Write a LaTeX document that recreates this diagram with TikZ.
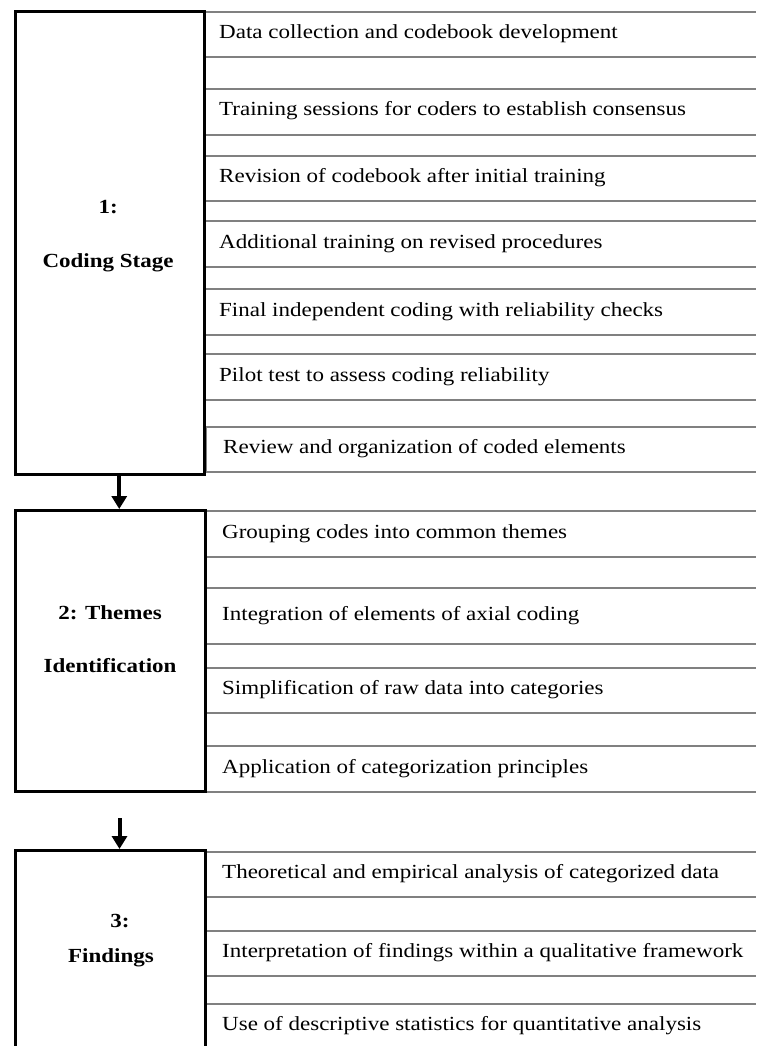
\documentclass[tikz,border=0pt]{standalone}
\usepackage{fontspec}
\setmainfont[FakeStretch=1.15]{Liberation Serif}
\usetikzlibrary{arrows.meta,positioning,calc}

\begin{document}
\begin{tikzpicture}[
		x=1pt,y=-1pt,
		stage/.style={
			draw=black,
			line width=3pt,
			inner sep=0pt
		},
		stagetext/.style={
			anchor=base,
			inner sep=0pt,
			font=\bfseries\fontsize{20}{24}\selectfont
		},
		item/.style={
			anchor=base west,
			inner sep=0pt,
			font=\fontsize{20}{24}\selectfont
		},
		rule/.style={
			draw=gray,
			line width=1.1pt
		},
		flow/.style={
			-{Triangle[width=15pt,length=13pt]},
			line width=4pt
		}
		]
		\useasboundingbox (0,0) rectangle (756,1046);
		
		% row rules
		\foreach \ya/\yb in {12/57,89/135,156/201,221/267,289/335,354/400,427/472,
			511/557,588/644,668/713,746/792,852/897,931/976,1004/1049}{
			\draw[rule] (205,\ya) -- (756,\ya);
			\draw[rule] (205,\yb) -- (756,\yb);
		}
		\draw[rule] (206,427) -- (206,472);
		
		% stage boxes
		\node[stage,minimum width=188.5pt,minimum height=463pt] (stage1) at (109.75,243) {};
		\node[stage,minimum width=189.8pt,minimum height=281pt] (stage2) at (110.4,651) {};
		\node[stage,minimum width=190.7pt,minimum height=219.5pt] (stage3) at (110.35,960.25) {};
		
		\node[stagetext] (num1) at (108.3,213.5) {1:};
		\node[stagetext] (name1) at (108,267) {Coding Stage};
		\node[stagetext] (num2) at (110,619) {2: Themes};
		\node[stagetext] (name2) at (110,672) {Identification};
		\node[stagetext] (num3) at (120,927) {3:};
		\node[stagetext] (name3) at (111,962) {Findings};
		
		% stage 1 steps
		\node[item] (code1) at (219,38.5) {Data collection and codebook development};
		\node[item] (code2) at (219,116) {Training sessions for coders to establish consensus};
		\node[item] (code3) at (219,182.5) {Revision of codebook after initial training};
		\node[item] (code4) at (219,248) {Additional training on revised procedures};
		\node[item] (code5) at (219,316) {Final independent coding with reliability checks};
		\node[item] (code6) at (219,381) {Pilot test to assess coding reliability};
		\node[item] (code7) at (223,453.5) {Review and organization of coded elements};
		
		% stage 2 steps
		\node[item] (theme1) at (222,538) {Grouping codes into common themes};
		\node[item] (theme2) at (222,620) {Integration of elements of axial coding};
		\node[item] (theme3) at (222,694.5) {Simplification of raw data into categories};
		\node[item] (theme4) at (222,773) {Application of categorization principles};
		
		% stage 3 steps
		\node[item] (find1) at (222,878.5) {Theoretical and empirical analysis of categorized data};
		\node[item] (find2) at (222,957.5) {Interpretation of findings within a qualitative framework};
		\node[item] (find3) at (222,1030.5) {Use of descriptive statistics for quantitative analysis};
		
		% arrows between stages
		\coordinate (gap1) at ([xshift=9.5pt]stage1.south);
		\coordinate (gap2) at (119.5,818);
		\draw[flow] (gap1) -- (gap1 |- stage2.north);
		\draw[flow] (gap2) -- (gap2 |- stage3.north);
\end{tikzpicture}
\end{document}
